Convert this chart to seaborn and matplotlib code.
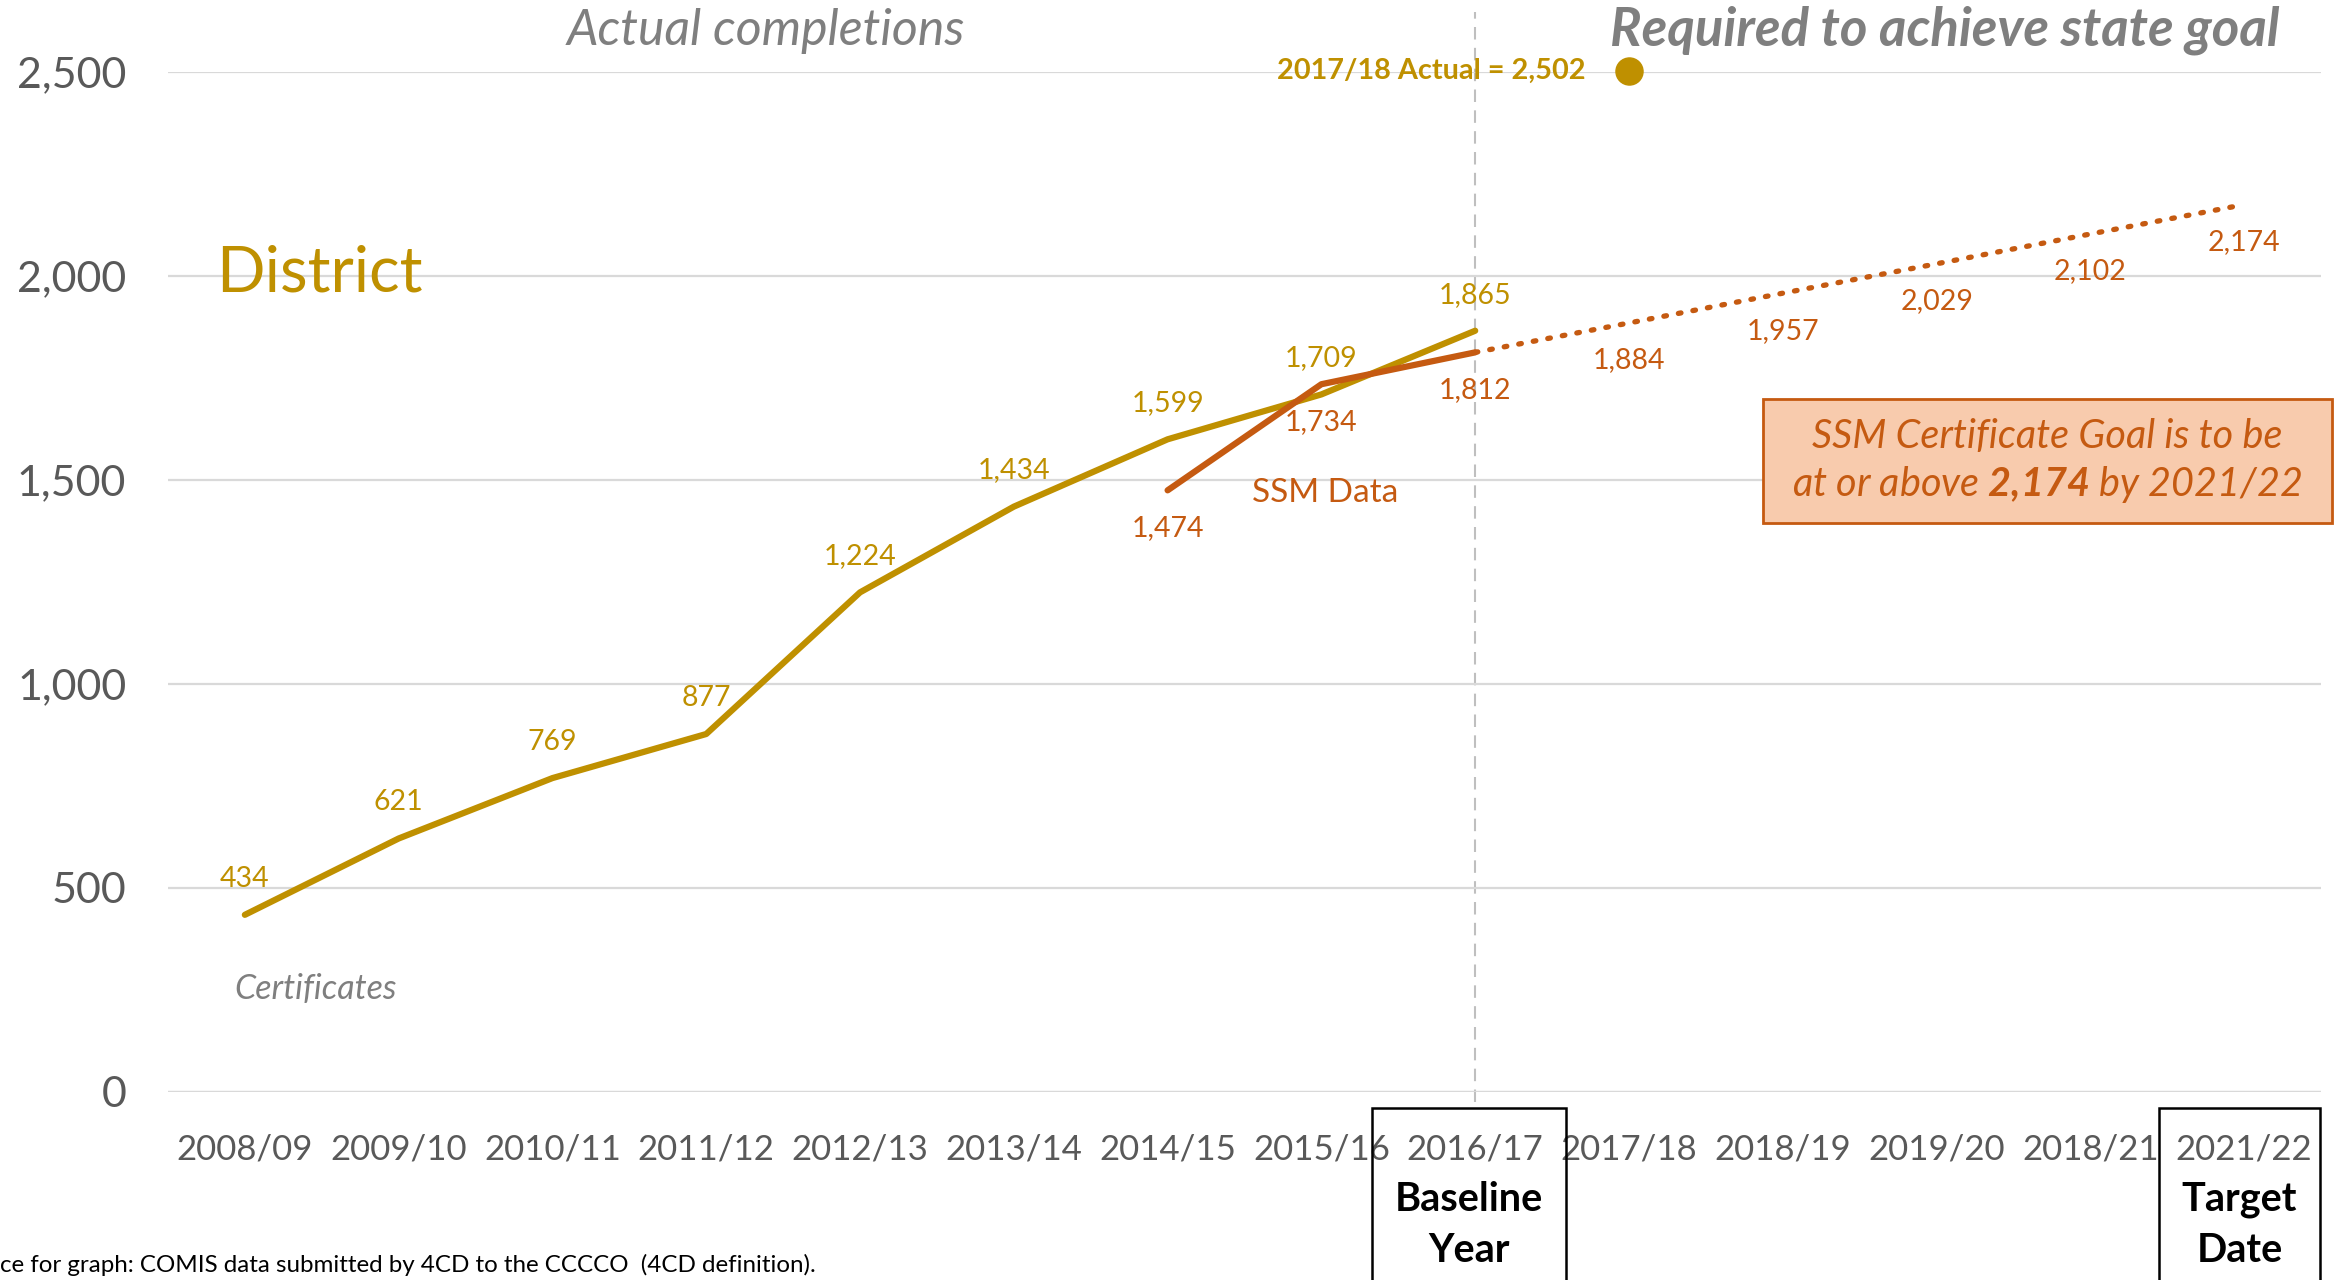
import matplotlib
matplotlib.use("Agg")
import matplotlib.pyplot as plt
from matplotlib.patches import Rectangle
import seaborn as sns
import pandas as pd

# ---------------------------
# Data
# ---------------------------
years = ["2008/09", "2009/10", "2010/11", "2011/12", "2012/13", "2013/14", "2014/15",
         "2015/16", "2016/17", "2017/18", "2018/19", "2019/20", "2018/21", "2021/22"]

district_years = years[:9]
district_vals = [434, 621, 769, 877, 1224, 1434, 1599, 1709, 1865]

ssm_years = ["2014/15", "2015/16", "2016/17"]
ssm_vals = [1474, 1734, 1812]

goal_years = ["2016/17", "2017/18", "2018/19", "2019/20", "2018/21", "2021/22"]
goal_vals = [1812, 1884, 1957, 2029, 2102, 2174]

actual_1718_year = "2017/18"
actual_1718_val = 2502

GOLD = "#BF9000"
ORANGE = "#C55A11"
GRAY = "#7F7F7F"
TICK = "#595959"

sns.set_theme(style="white")
plt.rcParams["font.family"] = ["Lato", "DejaVu Sans"]
plt.rcParams["mathtext.fontset"] = "custom"
plt.rcParams["mathtext.bf"] = "Lato:bold:italic"
plt.rcParams["mathtext.rm"] = "Lato:italic"

pos = {y: i for i, y in enumerate(years)}
df_d = pd.DataFrame({"x": [pos[y] for y in district_years], "v": district_vals})
df_s = pd.DataFrame({"x": [pos[y] for y in ssm_years], "v": ssm_vals})
df_g = pd.DataFrame({"x": [pos[y] for y in goal_years], "v": goal_vals})

fig = plt.figure(figsize=(23.36, 12.8), dpi=100)
ax = fig.add_axes([0.0719, 0.1469, 0.9217, 0.7972])

sns.lineplot(data=df_d, x="x", y="v", ax=ax, color=GOLD, lw=4.5)
sns.lineplot(data=df_s, x="x", y="v", ax=ax, color=ORANGE, lw=4.5)
sns.lineplot(data=df_g, x="x", y="v", ax=ax, color=ORANGE, lw=3.8,
             linestyle=(0, (0.5, 2.3)), dash_capstyle="round")
ax.scatter([pos[actual_1718_year]], [actual_1718_val], s=380, color=GOLD,
           zorder=5, clip_on=False)

ax.set_xlim(-0.5, len(years) - 0.5)
ax.set_ylim(0, 2500)
ax.set_yticks([0, 500, 1000, 1500, 2000, 2500])
ax.set_yticklabels(["0", "500", "1,000", "1,500", "2,000", "2,500"])
ax.set_xticks(range(len(years)))
ax.set_xticklabels(years)
ax.tick_params(axis="y", labelsize=31, colors=TICK, pad=30, length=0)
ax.tick_params(axis="x", labelsize=25, colors=TICK, pad=30, length=0)
ax.set_xlabel("")
ax.set_ylabel("")
ax.grid(axis="y", color="#D9D9D9", lw=1.6)
for s in ax.spines.values():
    s.set_visible(False)
ax.axhline(0, color="#D9D9D9", lw=1.6)

# baseline dashed line
ax.axvline(pos["2016/17"], ymin=-0.01, ymax=1.058, color="#BFBFBF", lw=1.5,
           linestyle=(0, (6, 4)), clip_on=False, zorder=0)

# data labels
for x, v in zip(df_d["x"], df_d["v"]):
    ax.annotate(f"{v:,}", (x, v), xytext=(0, 26), textcoords="offset points",
                ha="center", va="center", fontsize=20.5, color=GOLD)
for x, v in zip(df_s["x"], df_s["v"]):
    ax.annotate(f"{v:,}", (x, v), xytext=(0, -27), textcoords="offset points",
                ha="center", va="center", fontsize=20.5, color=ORANGE)
for x, v in zip(df_g["x"][1:], df_g["v"][1:]):
    ax.annotate(f"{v:,}", (x, v), xytext=(0, -27), textcoords="offset points",
                ha="center", va="center", fontsize=20.5, color=ORANGE)

ax.text(8.72, actual_1718_val, "2017/18 Actual = 2,502", ha="right", va="center",
        fontsize=20.8, color=GOLD, fontweight="bold", clip_on=False)

ax.text(-0.19, 2005, "District", ha="left", va="center", fontsize=46, color=GOLD)
ax.text(6.55, 1467, "SSM Data", ha="left", va="center", fontsize=24, color=ORANGE)
ax.text(-0.07, 252, "Certificates", ha="left", va="center", fontsize=24.5,
        color=GRAY, style="italic")
ax.text(3.39, 2600, "Actual completions", ha="center", va="center", fontsize=36,
        color=GRAY, style="italic", clip_on=False)
ax.text(13.23, 2600, "Required to achieve state goal", ha="right", va="center",
        fontsize=38, color=GRAY, style="italic", fontweight="bold", clip_on=False)

# goal box
ax.add_patch(Rectangle((9.87, 1394), 3.70, 303, facecolor="#F8CBAD",
                       edgecolor=ORANGE, lw=2, clip_on=False, zorder=6))
ax.text(11.72, 1545, "SSM Certificate Goal is to be\nat or above $\\mathbf{2{,}174}$ by 2021/22",
        ha="center", va="center", fontsize=28.5, color=ORANGE, style="italic",
        linespacing=1.3, zorder=7)

# baseline / target boxes below axis
for x0, w, label in [(0.5873, 0.0830, "Baseline\nYear"), (0.9242, 0.0689, "Target\nDate")]:
    fig.patches.append(Rectangle((x0, -0.01), w, 0.1444, transform=fig.transFigure,
                                 facecolor="none", edgecolor="black", lw=1.8))
    fig.text(x0 + w / 2, 0.043, label, ha="center", va="center", fontsize=28.5,
             fontweight="bold", color="black", linespacing=1.45)

fig.text(0.0, 0.012, "ce for graph: COMIS data submitted by 4CD to the CCCCO  (4CD definition).",
         ha="left", va="center", fontsize=17.4, color="black")

fig.savefig("out.png", dpi=100)
